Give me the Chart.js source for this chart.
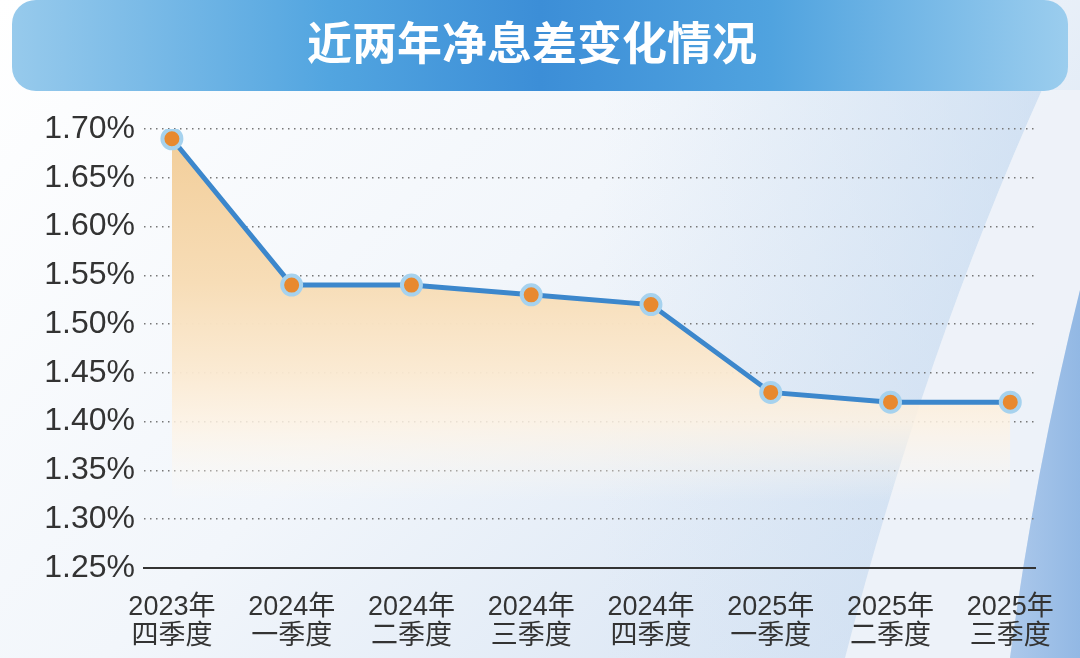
<!DOCTYPE html>
<html>
<head>
<meta charset="utf-8">
<script src="https://cdn.jsdelivr.net/npm/chart.js@4.4.1/dist/chart.umd.min.js"></script>
<style>
  html, body { margin: 0; padding: 0; background: #fff; }
  #contenedor { width: 1080px; height: 658px; position: relative; }
</style>
</head>
<body>
<div id="contenedor"><canvas id="grafico"></canvas></div>
<script>
// datos del gráfico
const titulo = '近两年净息差变化情况';
const trimestres = [
  ['2023年', '四季度'], ['2024年', '一季度'], ['2024年', '二季度'], ['2024年', '三季度'],
  ['2024年', '四季度'], ['2025年', '一季度'], ['2025年', '二季度'], ['2025年', '三季度']
];
const margen = [1.69, 1.54, 1.54, 1.53, 1.52, 1.43, 1.42, 1.42];
const ticksY = [1.25, 1.30, 1.35, 1.40, 1.45, 1.50, 1.55, 1.60, 1.65, 1.70];

// fondo y franja del título
const fondo = {
  id: 'fondo',
  beforeDraw(chart) {
    const c = chart.ctx, w = chart.width, h = chart.height;
    c.save();
    let g = c.createLinearGradient(0, 0, w * 0.7, h * 1.2);
    g.addColorStop(0, '#ffffff');
    g.addColorStop(0.5, '#f2f6fb');
    g.addColorStop(1, '#d6e3f3');
    c.fillStyle = g;
    c.fillRect(0, 0, w, h);

    // banda azulada a la izquierda de la franja clara
    g = c.createLinearGradient(600, 0, 1030, 0);
    g.addColorStop(0, 'rgba(210,226,243,0)');
    g.addColorStop(1, 'rgba(198,218,240,0.6)');
    c.fillStyle = g;
    c.beginPath();
    c.moveTo(580, 90); c.lineTo(1042, 90);
    c.quadraticCurveTo(925, 350, 845, 658);
    c.lineTo(580, 658); c.closePath(); c.fill();

    // franja clara
    c.fillStyle = 'rgba(238,242,249,0.95)';
    c.beginPath();
    c.moveTo(1042, 90); c.lineTo(1080, 90); c.lineTo(1080, 290);
    c.quadraticCurveTo(1035, 470, 1010, 658);
    c.lineTo(845, 658);
    c.quadraticCurveTo(925, 350, 1042, 90);
    c.fill();

    // franja azul derecha
    g = c.createLinearGradient(1000, 0, 1080, 0);
    g.addColorStop(0, '#b0cbec');
    g.addColorStop(1, '#92b8e4');
    c.fillStyle = g;
    c.beginPath();
    c.moveTo(1080, 290);
    c.quadraticCurveTo(1035, 470, 1010, 658);
    c.lineTo(1080, 658); c.closePath(); c.fill();

    // franja del título
    g = c.createLinearGradient(12, 0, 1068, 0);
    g.addColorStop(0, '#97caec');
    g.addColorStop(0.3, '#52a5e0');
    g.addColorStop(0.5, '#3c8ed7');
    g.addColorStop(0.72, '#50a3df');
    g.addColorStop(1, '#9bcdee');
    c.fillStyle = g;
    c.beginPath();
    c.roundRect(12, 0, 1056, 91, 24);
    c.fill();
    c.restore();
  }
};

const ctx = document.getElementById('grafico');
new Chart(ctx, {
  type: 'line',
  data: {
    datasets: [{
      data: margen.map((v, i) => ({ x: i, y: v })),
      borderColor: '#3c87cc',
      borderWidth: 5,
      pointRadius: 9.5,
      pointHoverRadius: 9.5,
      pointBackgroundColor: '#e8892f',
      pointBorderColor: '#a6d2ee',
      pointBorderWidth: 4,
      fill: 'start',
      backgroundColor: (context) => {
        const area = context.chart.chartArea;
        if (!area) return 'rgba(243,205,150,0.8)';
        const g = context.chart.ctx.createLinearGradient(0, area.top, 0, area.bottom);
        g.addColorStop(0, 'rgba(242,205,152,1)');
        g.addColorStop(0.35, 'rgba(247,221,183,1)');
        g.addColorStop(0.56, 'rgba(251,234,210,0.95)');
        g.addColorStop(0.67, 'rgba(253,242,227,0.85)');
        g.addColorStop(0.85, 'rgba(255,250,242,0)');
        return g;
      },
      tension: 0
    }]
  },
  options: {
    responsive: true,
    maintainAspectRatio: false,
    animation: false,
    layout: { padding: { left: 27, right: 43, top: 0, bottom: 0 } },
    plugins: {
      legend: { display: false },
      tooltip: { enabled: false },
      title: {
        display: true,
        text: titulo,
        color: '#ffffff',
        font: { family: '"Noto Sans CJK SC", sans-serif', size: 45, weight: 'bold', lineHeight: 1.2 },
        padding: { top: 16, bottom: 59 }
      }
    },
    scales: {
      x: {
        type: 'linear',
        min: -0.233,
        max: 7.208,
        afterBuildTicks: (scale) => { scale.ticks = trimestres.map((_, i) => ({ value: i })); },
        afterFit: (scale) => { scale.height = 90; },
        grid: { display: false, drawTicks: false },
        border: { display: true, color: '#333333', width: 2 },
        ticks: {
          autoSkip: false,
          maxRotation: 0,
          padding: 25,
          color: '#333333',
          font: { family: '"Liberation Sans", "Noto Sans CJK SC", sans-serif', size: 27, lineHeight: 1.08 },
          callback: (v) => trimestres[v]
        }
      },
      y: {
        min: 1.25,
        max: 1.70,
        afterBuildTicks: (scale) => { scale.ticks = ticksY.map(v => ({ value: v })); },
        afterFit: (scale) => { scale.width = 117; },
        grid: { color: '#777777', lineWidth: 1.5, drawTicks: false },
        border: { display: false, dash: [1.5, 4.5] },
        ticks: {
          padding: 9,
          color: '#333333',
          font: { family: '"Liberation Sans", sans-serif', size: 32 },
          callback: (v) => v.toFixed(2) + '%'
        }
      }
    }
  },
  plugins: [fondo]
});
</script>
</body>
</html>
